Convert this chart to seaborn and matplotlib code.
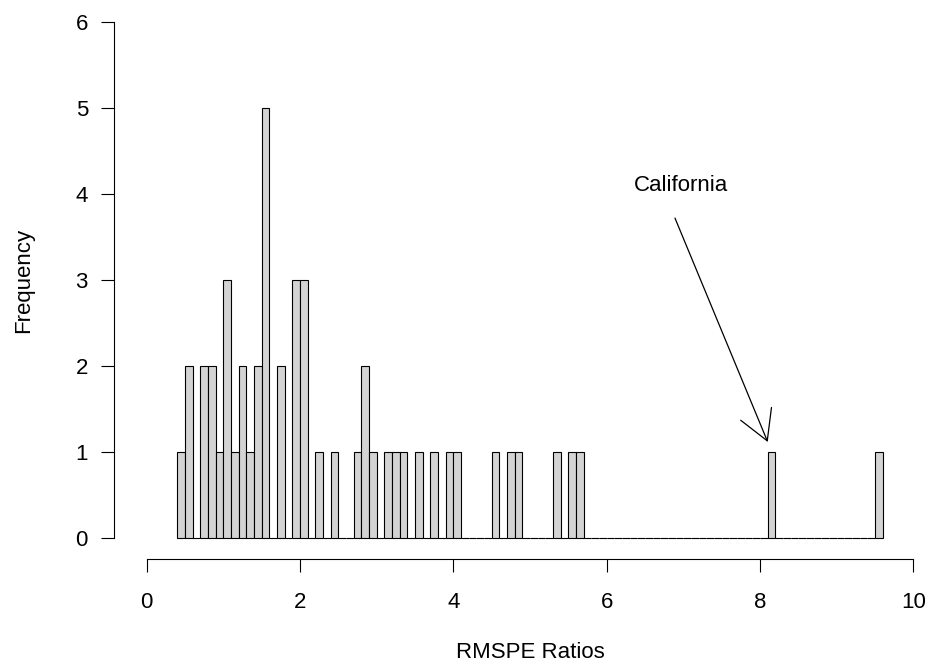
import numpy as np
import pandas as pd
import matplotlib
matplotlib.use("Agg")
import matplotlib.pyplot as plt
import seaborn as sns

# Histogram data (bin width 0.1): lower edge of each non-empty bin and its count
bin_starts = [0.4, 0.5, 0.7, 0.8, 0.9, 1.0, 1.1, 1.2, 1.3, 1.4, 1.5, 1.7, 1.9, 2.0,
              2.2, 2.4, 2.7, 2.8, 2.9, 3.1, 3.2, 3.3, 3.5, 3.7, 3.9, 4.0,
              4.5, 4.7, 4.8, 5.3, 5.5, 5.6, 8.1, 9.5]
counts = [1, 2, 2, 2, 1, 3, 1, 2, 1, 2, 5, 2, 3, 3,
          1, 1, 1, 2, 1, 1, 1, 1, 1, 1, 1, 1,
          1, 1, 1, 1, 1, 1, 1, 1]
x_ticks = [0, 2, 4, 6, 8, 10]
y_ticks = [0, 1, 2, 3, 4, 5, 6]
x_label = "RMSPE Ratios"
y_label = "Frequency"
annot_text = "California"

sns.set_style("white")
plt.rcParams["font.family"] = ["Liberation Sans", "DejaVu Sans"]
plt.rcParams["text.color"] = "black"
plt.rcParams["axes.labelcolor"] = "black"
plt.rcParams["xtick.color"] = "black"
plt.rcParams["ytick.color"] = "black"

FS = 16
W, H = 927, 664
fig = plt.figure(figsize=(W / 100, H / 100), dpi=100)

# pixel geometry
px0 = 146.7          # x=0
pxu = 76.67          # px per x unit
py0 = 537.7          # y=0 (from top)
pyu = 86.0           # px per y unit
left_px, bottom_px = 113.5, 559.0

ax = fig.add_axes([left_px / W, (H - bottom_px) / H, (W - left_px) / W, bottom_px / H])

df = pd.DataFrame({"ratio": [round(b + 0.05, 2) for b in bin_starts],
                   "count": counts})
edges = [round(0.4 + 0.1 * i, 1) for i in range(93)]
sns.histplot(data=df, x="ratio", weights="count", bins=edges, ax=ax, stat="count",
             color="#D3D3D3", edgecolor="black", linewidth=0.8, alpha=1)

ax.set_xlim(-(px0 - left_px) / pxu, (W - px0) / pxu)
ax.set_ylim(-(bottom_px - py0) / pyu, py0 / pyu)

for s in ["top", "right"]:
    ax.spines[s].set_visible(False)
ax.spines["left"].set_bounds(0, 6)
ax.spines["bottom"].set_bounds(0, 10)
for s in ["left", "bottom"]:
    ax.spines[s].set_linewidth(0.8)
    ax.spines[s].set_color("black")

ax.set_xticks(x_ticks)
ax.set_yticks(y_ticks)
ax.set_xticklabels([str(t) for t in x_ticks])
ax.set_yticklabels([str(t) for t in y_ticks])
ax.tick_params(axis="x", bottom=True, direction="out", length=9.4, width=0.8, pad=14,
               labelsize=FS, colors="black")
ax.tick_params(axis="y", left=True, direction="out", length=9.4, width=0.8, pad=9,
               labelsize=FS, colors="black")
ax.set_xlabel("")
ax.set_ylabel("")

fig.text(530 / W, 1 - 653 / H, x_label, ha="center", va="center", fontsize=FS)
fig.text(23.5 / W, 1 - 280 / H, y_label, ha="center", va="center", rotation=90, fontsize=FS)

ax.text(6.975, 4.1, annot_text, ha="center", va="center", fontsize=FS)
ax.annotate("", xy=(8.1, 1.113), xytext=(6.89, 3.717),
            arrowprops=dict(arrowstyle="->,head_length=21,head_width=12",
                            mutation_scale=1, shrinkA=0, shrinkB=0,
                            lw=0.9, color="black"))

fig.savefig("out.png", dpi=100)
